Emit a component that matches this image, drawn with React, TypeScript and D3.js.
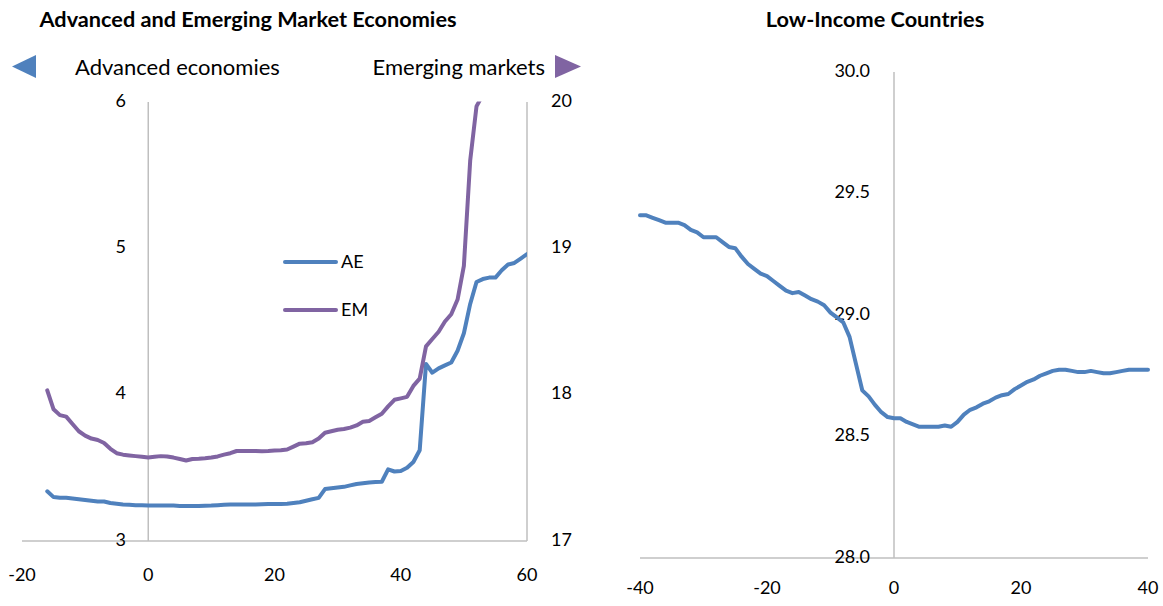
import React from "react";
import * as d3 from "d3";

// ---- Data ----
const aeX: number[] = d3.range(-16, 61);
const aeValues: number[] = [
  3.34, 3.30, 3.295, 3.295, 3.29, 3.285, 3.28, 3.275, 3.27, 3.27, 3.26, 3.255, 3.25, 3.248, 3.245, 3.245,
  3.243, 3.243, 3.243, 3.242, 3.242, 3.24, 3.24, 3.24, 3.24, 3.241, 3.242, 3.245, 3.247, 3.249, 3.25,
  3.25, 3.25, 3.25, 3.251, 3.252, 3.252, 3.253, 3.255, 3.26, 3.265, 3.275, 3.285, 3.295,
  3.355, 3.36, 3.365, 3.37, 3.38, 3.39, 3.395, 3.40, 3.403, 3.405,
  3.49, 3.475, 3.478, 3.50, 3.54, 3.62, 4.21, 4.15, 4.18, 4.20, 4.22, 4.30, 4.42, 4.62, 4.77,
  4.79, 4.80, 4.80, 4.85, 4.89, 4.90, 4.93, 4.96,
];
const emX: number[] = d3.range(-16, 54);
const emValues: number[] = [
  18.03, 17.90, 17.86, 17.85, 17.80, 17.75, 17.72, 17.70, 17.69, 17.67, 17.63, 17.60, 17.59, 17.585, 17.58, 17.575,
  17.57, 17.575, 17.58, 17.578, 17.57, 17.56, 17.55, 17.56, 17.562, 17.565, 17.57, 17.578, 17.59, 17.60,
  17.615, 17.615, 17.615, 17.615, 17.613, 17.615, 17.618, 17.62, 17.625, 17.645, 17.665, 17.668, 17.675,
  17.70, 17.74, 17.75, 17.76, 17.765, 17.775, 17.79, 17.815, 17.82, 17.845, 17.87, 17.92, 17.965, 17.975,
  17.985, 18.06, 18.11, 18.33, 18.38, 18.43, 18.50, 18.55, 18.65, 18.88, 19.60, 19.97, 20.05,
];
const licX: number[] = d3.range(-40, 41);
const licValues: number[] = [
  29.41, 29.41, 29.40, 29.39, 29.38, 29.38, 29.38, 29.37, 29.35, 29.34, 29.32, 29.32, 29.32, 29.30, 29.28,
  29.275, 29.24, 29.21, 29.19, 29.17, 29.16, 29.14, 29.12, 29.10, 29.09, 29.095, 29.08, 29.065, 29.055,
  29.04, 29.01, 28.99, 28.97, 28.91, 28.80, 28.69, 28.665, 28.63, 28.60, 28.58,
  28.575, 28.575, 28.56, 28.55, 28.54, 28.54, 28.54, 28.54, 28.545, 28.54, 28.56, 28.59, 28.61, 28.62,
  28.635, 28.645, 28.66, 28.67, 28.675, 28.695, 28.71, 28.725, 28.735, 28.75, 28.76, 28.77, 28.775,
  28.775, 28.77, 28.765, 28.765, 28.77, 28.765, 28.76, 28.76, 28.765, 28.77, 28.775, 28.775, 28.775, 28.775,
];

const leftXTicks: number[] = [-20, 0, 20, 40, 60];
const leftYTicks: number[] = [3, 4, 5, 6];
const rightYTicks: number[] = [17, 18, 19, 20];
const licXTicks: number[] = [-40, -20, 0, 20, 40];
const licYTicks: number[] = [28.0, 28.5, 29.0, 29.5, 30.0];

const BLUE = "#4f81bd";
const PURPLE = "#8064a2";
const GRID = "#bfbfbf";
const FONT = "Lato, 'Open Sans', sans-serif";

export default function App() {
  // Left panel scales
  const xL = d3.scaleLinear().domain([-20, 60]).range([22, 527]);
  const yL = d3.scaleLinear().domain([3, 6]).range([541, 102]);
  const yR = d3.scaleLinear().domain([17, 20]).range([541, 102]);
  // Right panel scales
  const xC = d3.scaleLinear().domain([-40, 40]).range([640, 1148]);
  const yC = d3.scaleLinear().domain([28, 30]).range([558, 72]);

  const aeLine = d3.line<number>().x((_, i) => xL(aeX[i])).y((d) => yL(d))(aeValues) || "";
  const emLine = d3.line<number>().x((_, i) => xL(emX[i])).y((d) => yR(d))(emValues) || "";
  const licLine = d3.line<number>().x((_, i) => xC(licX[i])).y((d) => yC(d))(licValues) || "";

  return (
    <svg width={1163} height={606} style={{ position: "absolute", left: 0, top: 0, background: "#fff" }} fontFamily={FONT}>
      <defs>
        <clipPath id="clipL">
          <rect x={xL(-20)} y={yL(6) - 0.5} width={xL(60) - xL(-20)} height={yL(3) - yL(6) + 2} />
        </clipPath>
      </defs>

      {/* Titles */}
      <text x={248} y={27} textAnchor="middle" fontWeight="bold" fontSize={21.7}>Advanced and Emerging Market Economies</text>
      <text x={875} y={27} textAnchor="middle" fontWeight="bold" fontSize={21.7}>Low-Income Countries</text>

      {/* Top legend for axes */}
      <path d="M12,66.5 L36,55 L36,78 Z" fill={BLUE} />
      <text x={75} y={69} fontSize={22} dominantBaseline="middle">Advanced economies</text>
      <text x={545} y={69} fontSize={22} textAnchor="end" dominantBaseline="middle">Emerging markets</text>
      <path d="M581,66.5 L555,55 L555,78 Z" fill={PURPLE} />

      {/* Left panel axes */}
      <line x1={xL(-20)} x2={xL(60)} y1={yL(3)} y2={yL(3)} stroke={GRID} strokeWidth={1.5} />
      <line x1={xL(0)} x2={xL(0)} y1={yL(6)} y2={yL(3)} stroke={GRID} strokeWidth={1.5} />
      <line x1={xL(60)} x2={xL(60)} y1={yL(6)} y2={yL(3)} stroke={GRID} strokeWidth={1.5} />
      {leftXTicks.map((t) => (
        <text key={"lx" + t} x={xL(t)} y={576} fontSize={18} textAnchor="middle" dominantBaseline="middle">{t}</text>
      ))}
      {leftYTicks.map((t) => (
        <text key={"ly" + t} x={126} y={yL(t)} fontSize={18} textAnchor="end" dominantBaseline="middle">{t}</text>
      ))}
      {rightYTicks.map((t) => (
        <text key={"ry" + t} x={551} y={yR(t)} fontSize={18} textAnchor="start" dominantBaseline="middle">{t}</text>
      ))}

      <g clipPath="url(#clipL)">
        <path d={aeLine} fill="none" stroke={BLUE} strokeWidth={4} strokeLinejoin="round" strokeLinecap="round" />
        <path d={emLine} fill="none" stroke={PURPLE} strokeWidth={4} strokeLinejoin="round" strokeLinecap="round" />
      </g>

      {/* Inline legend */}
      <line x1={285} x2={336} y1={262} y2={262} stroke={BLUE} strokeWidth={4} strokeLinecap="round" />
      <text x={341} y={263} fontSize={18} dominantBaseline="middle">AE</text>
      <line x1={285} x2={336} y1={310} y2={310} stroke={PURPLE} strokeWidth={4} strokeLinecap="round" />
      <text x={341} y={311} fontSize={18} dominantBaseline="middle">EM</text>

      {/* Right panel axes */}
      <line x1={xC(-40)} x2={xC(40)} y1={yC(28)} y2={yC(28)} stroke={GRID} strokeWidth={1.5} />
      <line x1={xC(0)} x2={xC(0)} y1={yC(30)} y2={yC(28)} stroke={GRID} strokeWidth={1.5} />
      {licXTicks.map((t) => (
        <text key={"cx" + t} x={xC(t)} y={589} fontSize={18} textAnchor="middle" dominantBaseline="middle">{t}</text>
      ))}
      {licYTicks.map((t) => (
        <text key={"cy" + t} x={870} y={yC(t)} fontSize={18} textAnchor="end" dominantBaseline="middle">{t.toFixed(1)}</text>
      ))}
      <path d={licLine} fill="none" stroke={BLUE} strokeWidth={4} strokeLinejoin="round" strokeLinecap="round" />
    </svg>
  );
}
